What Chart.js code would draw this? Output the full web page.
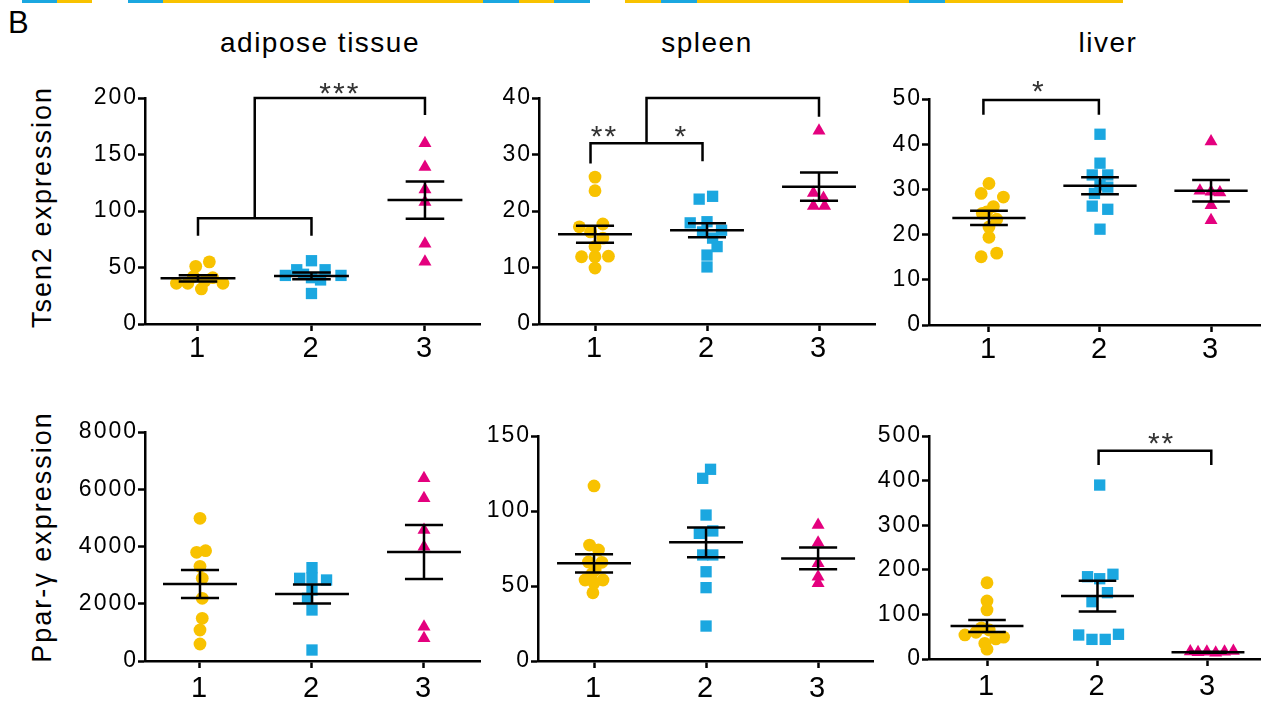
<!DOCTYPE html>
<html>
<head>
<meta charset="utf-8">
<script src="https://cdn.jsdelivr.net/npm/chart.js@4.4.1/dist/chart.umd.min.js"></script>
<style>
  html, body { margin: 0; padding: 0; background: #fff; }
  body { width: 1261px; height: 701px; position: relative; overflow: hidden;
         font-family: "Liberation Sans", Arial, sans-serif; color: #000; }
  canvas { position: absolute; }
  .strip { position: absolute; top: 0; height: 3px; }
  .tag { position: absolute; left: 8px; top: 7px; font-size: 31px; line-height: 31px; }
  .title { position: absolute; width: 300px; text-align: center; font-size: 28px;
           line-height: 28px; letter-spacing: 1.5px; top: 28.5px; }
  .ytitle { position: absolute; width: 320px; height: 30px; line-height: 30px; text-align: center;
            font-size: 27px; letter-spacing: 2px; transform: rotate(-90deg); }
</style>
</head>
<body>
<div id="strip"></div>
<div class="tag">B</div>
<div class="title" style="left:170px">adipose tissue</div>
<div class="title" style="left:557px">spleen</div>
<div class="title" style="left:958px">liver</div>
<div class="ytitle" style="left:-118.5px;top:191.5px">Tsen2 expression</div>
<div class="ytitle" style="left:-118.5px;top:521.5px">Ppar-γ expression</div>

<script>
// groups shown on every panel
const categories = [1, 2, 3];
const categoryLabels = ['1', '2', '3'];
const groupColors = ['#F8C200', '#1BA7E0', '#E4007E'];
const groupShapes = ['circle', 'rect', 'triangle'];
const groupRadius = [6.4, 8, 7.5];

// Tsen2 - adipose tissue
const tsen2AdiposeG1 = [51, 55, 36, 36, 31, 41, 36, 42, 38];
const tsen2AdiposeDx1 = [-0.02, 0.10, -0.19, -0.09, 0.03, 0.13, 0.22, -0.04, 0.06];
const tsen2AdiposeG2 = [56, 48, 43, 48, 43, 39, 41, 27, 44];
const tsen2AdiposeDx2 = [0, -0.13, -0.23, 0.12, 0.26, 0.08, 0, 0, -0.07];
const tsen2AdiposeG3 = [160, 139, 119, 108, 71, 55];
const tsen2AdiposeDx3 = [0, 0, 0, 0, 0, 0];
const tsen2AdiposeMean = [40.4, 42.5, 109.7];
const tsen2AdiposeSem = [2.8, 3.0, 16.5];
const tsen2AdiposeTicks = [0, 50, 100, 150, 200];

// Tsen2 - spleen
const tsen2SpleenG1 = [26, 23.6, 17.2, 17.7, 16.3, 15.2, 13.7, 11.9, 11.9, 12, 9.9];
const tsen2SpleenDx1 = [0, 0, -0.14, 0.07, -0.04, 0.07, 0, -0.12, 0, 0.12, 0];
const tsen2SpleenG2 = [22.1, 22.6, 17.9, 18.1, 16.6, 16.3, 15.2, 13.7, 12.2, 10.1];
const tsen2SpleenDx2 = [-0.07, 0.05, -0.15, 0, 0.13, -0.04, 0.05, 0.09, 0, 0];
const tsen2SpleenG3 = [34.2, 23.2, 22.3, 20.9, 20.9];
const tsen2SpleenDx3 = [0, -0.05, 0.04, -0.05, 0.05];
const tsen2SpleenMean = [15.9, 16.6, 24.3];
const tsen2SpleenSem = [1.5, 1.25, 2.5];
const tsen2SpleenTicks = [0, 10, 20, 30, 40];

// Tsen2 - liver
const tsen2LiverG1 = [31.3, 29.1, 28.3, 26.2, 24.7, 23.4, 21.7, 19.4, 15.1, 15.9, 25.0];
const tsen2LiverDx1 = [0, -0.07, 0.13, 0.04, -0.06, 0.07, 0, 0, -0.07, 0.07, -0.02];
const tsen2LiverG2 = [42.2, 35.8, 33.2, 33.2, 31, 29.1, 30.5, 26.3, 25.6, 21.2];
const tsen2LiverDx2 = [0, 0, -0.07, 0.07, 0, -0.05, 0.07, -0.07, 0.07, 0];
const tsen2LiverG3 = [40.6, 29.7, 29.3, 29.5, 26.5, 23.2];
const tsen2LiverDx3 = [0, -0.1, 0.08, 0, 0, 0];
const tsen2LiverMean = [23.7, 30.8, 29.7];
const tsen2LiverSem = [1.6, 1.9, 2.4];
const tsen2LiverTicks = [0, 10, 20, 30, 40, 50];

// Ppar-gamma - adipose tissue
const pparAdiposeG1 = [4985, 3797, 3854, 3307, 2889, 2190, 1492, 1083, 594];
const pparAdiposeDx1 = [0, -0.03, 0.05, 0, 0.02, 0.02, 0.02, 0, 0];
const pparAdiposeG2 = [3260, 2889, 2900, 2830, 2480, 2190, 1782, 384];
const pparAdiposeDx2 = [0, -0.11, 0, 0.13, 0, -0.04, 0, 0];
const pparAdiposeG3 = [6382, 5683, 4577, 3994, 1199, 793];
const pparAdiposeDx3 = [0, 0, 0, 0, 0, 0];
const pparAdiposeMean = [2690, 2340, 3808];
const pparAdiposeSem = [490, 330, 943];
const pparAdiposeTicks = [0, 2000, 4000, 6000, 8000];

// Ppar-gamma - spleen
const pparSpleenG1 = [116.7, 77.3, 74, 65.8, 60.7, 54, 54, 45.5, 66, 58, 52];
const pparSpleenDx1 = [0, -0.04, 0.04, 0.07, 0.01, -0.08, 0.08, -0.01, -0.05, -0.02, 0];
const pparSpleenG2 = [127.8, 121.8, 97.3, 85.1, 86.7, 70.7, 70.7, 59.5, 48.9, 23.3];
const pparSpleenDx2 = [0.04, -0.03, 0, -0.06, 0.06, -0.03, 0.06, 0, 0, 0];
const pparSpleenG3 = [90.7, 78.9, 65.1, 56.2, 51.8];
const pparSpleenDx3 = [0, 0, 0, 0, 0];
const pparSpleenMean = [65.1, 79.1, 68.4];
const pparSpleenSem = [6.1, 9.9, 7.2];
const pparSpleenTicks = [0, 50, 100, 150];

// Ppar-gamma - liver
const pparLiverG1 = [171, 130, 110, 54, 65, 49, 35, 22, 60, 45, 70];
const pparLiverDx1 = [0, 0, 0, -0.2, 0.02, 0.15, -0.02, 0, -0.1, 0.08, -0.05];
const pparLiverG2 = [390, 184.5, 180, 190, 128.5, 148.7, 53.8, 44, 44, 55.4];
const pparLiverDx2 = [0.02, -0.09, 0.02, 0.14, -0.05, 0.09, -0.17, -0.05, 0.07, 0.19];
const pparLiverG3 = [17, 15, 16, 14, 16, 18];
const pparLiverDx3 = [-0.16, -0.09, -0.01, 0.07, 0.15, 0.23];
const pparLiverMean = [74, 141, 15];
const pparLiverSem = [13.7, 34.5, 1.2];
const pparLiverTicks = [0, 100, 200, 300, 400, 500];

// significance brackets [x, y] and their stars [text, x, y]
const tsen2AdiposeBrackets = [[[1, 78], [1, 93.5], [2, 93.5], [2, 78]], [[1.5, 93.5], [1.5, 200], [3, 200], [3, 185]]];
const tsen2AdiposeStars = [['***', 2.25, 208.8]];
const tsen2SpleenBrackets = [[[0.96, 28.4], [0.96, 32], [1.96, 32], [1.96, 28.8]], [[1.46, 32], [1.46, 40], [3, 40], [3, 36.7]]];
const tsen2SpleenStars = [['**', 1.085, 34.2], ['*', 1.77, 34.1]];
const tsen2LiverBrackets = [[[0.95, 46.5], [0.95, 49.8], [1.99, 49.8], [1.99, 46.5]]];
const tsen2LiverStars = [['*', 1.45, 52.9]];
const pparLiverBrackets = [[[2.01, 435], [2.01, 467], [3.03, 467], [3.03, 435]]];
const pparLiverStars = [['**', 2.58, 496]];

// leftover colour strip from the panel above
const stripStops = [[22, 57, '#1BA7E0'], [57, 92, '#F8C200'], [128, 163, '#1BA7E0'], [163, 483, '#F8C200'],
  [483, 519, '#1BA7E0'], [519, 554, '#F8C200'], [554, 590, '#1BA7E0'], [625, 661, '#F8C200'],
  [661, 697, '#1BA7E0'], [697, 909, '#F8C200'], [909, 945, '#1BA7E0'], [945, 1123, '#F8C200']];
const strip = document.getElementById('strip');
stripStops.forEach(([a, b, c]) => {
  const d = document.createElement('div');
  d.className = 'strip';
  d.style.left = a + 'px';
  d.style.width = (b - a) + 'px';
  d.style.background = c;
  strip.appendChild(d);
});

Chart.defaults.font.family = '"Liberation Sans", Arial, sans-serif';
Chart.defaults.color = '#000';

// the figure's font is set wide, so space the canvas letters out a bit
const spacingPlugin = {
  id: 'spacing',
  beforeUpdate(chart) { chart.ctx.letterSpacing = '2px'; },
  beforeDraw(chart) { chart.ctx.letterSpacing = '2px'; }
};

const starPlugin = {
  id: 'stars',
  afterDatasetsDraw(chart, args, opts) {
    const {ctx, scales: {x, y}} = chart;
    ctx.save();
    ctx.font = '30px "Liberation Sans", Arial, sans-serif';
    ctx.fillStyle = '#333';
    ctx.textAlign = 'center';
    ctx.textBaseline = 'middle';
    (opts.items || []).forEach(([txt, sx, sy]) => {
      ctx.fillText(txt, x.getPixelForValue(sx), y.getPixelForValue(sy) + 6.5);
    });
    ctx.restore();
  }
};

const panels = [
  { canvas: [0, 55, 490, 372], area: [145, 98, 480, 324], xRange: [0.533, 3.485],
    groups: [tsen2AdiposeG1, tsen2AdiposeG2, tsen2AdiposeG3], dx: [tsen2AdiposeDx1, tsen2AdiposeDx2, tsen2AdiposeDx3],
    mean: tsen2AdiposeMean, sem: tsen2AdiposeSem, ticks: tsen2AdiposeTicks, brackets: tsen2AdiposeBrackets, stars: tsen2AdiposeStars },
  { canvas: [470, 55, 885, 372], area: [539, 98, 875, 324], xRange: [0.5, 3.5],
    groups: [tsen2SpleenG1, tsen2SpleenG2, tsen2SpleenG3], dx: [tsen2SpleenDx1, tsen2SpleenDx2, tsen2SpleenDx3],
    mean: tsen2SpleenMean, sem: tsen2SpleenSem, ticks: tsen2SpleenTicks, brackets: tsen2SpleenBrackets, stars: tsen2SpleenStars },
  { canvas: [860, 55, 1261, 372], area: [929, 99, 1261, 325], xRange: [0.46, 3.45],
    groups: [tsen2LiverG1, tsen2LiverG2, tsen2LiverG3], dx: [tsen2LiverDx1, tsen2LiverDx2, tsen2LiverDx3],
    mean: tsen2LiverMean, sem: tsen2LiverSem, ticks: tsen2LiverTicks, brackets: tsen2LiverBrackets, stars: tsen2LiverStars },
  { canvas: [0, 400, 490, 701], area: [145, 432, 480, 661], xRange: [0.509, 3.5],
    groups: [pparAdiposeG1, pparAdiposeG2, pparAdiposeG3], dx: [pparAdiposeDx1, pparAdiposeDx2, pparAdiposeDx3],
    mean: pparAdiposeMean, sem: pparAdiposeSem, ticks: pparAdiposeTicks, brackets: [], stars: [] },
  { canvas: [470, 400, 885, 701], area: [538, 436, 873, 661], xRange: [0.5, 3.49],
    groups: [pparSpleenG1, pparSpleenG2, pparSpleenG3], dx: [pparSpleenDx1, pparSpleenDx2, pparSpleenDx3],
    mean: pparSpleenMean, sem: pparSpleenSem, ticks: pparSpleenTicks, brackets: [], stars: [] },
  { canvas: [860, 400, 1261, 701], area: [929, 436, 1261, 659], xRange: [0.475, 3.48],
    groups: [pparLiverG1, pparLiverG2, pparLiverG3], dx: [pparLiverDx1, pparLiverDx2, pparLiverDx3],
    mean: pparLiverMean, sem: pparLiverSem, ticks: pparLiverTicks, brackets: pparLiverBrackets, stars: pparLiverStars }
];

function buildDatasets(p) {
  const datasets = [];
  const lineStyle = { showLine: true, pointRadius: 0, borderColor: '#000', borderWidth: 2.5, spanGaps: false, clip: false, order: 0 };

  // mean with SEM whiskers for each group
  const meanLines = [];
  categories.forEach((c, g) => {
    const m = p.mean[g], s = p.sem[g];
    meanLines.push(
      {x: c - 0.33, y: m}, {x: c + 0.33, y: m}, {x: c, y: null},
      {x: c - 0.17, y: m + s}, {x: c + 0.17, y: m + s}, {x: c, y: null},
      {x: c - 0.17, y: m - s}, {x: c + 0.17, y: m - s}, {x: c, y: null},
      {x: c, y: m - s}, {x: c, y: m + s}, {x: c, y: null});
  });
  datasets.push(Object.assign({ data: meanLines }, lineStyle));

  p.brackets.forEach(b => {
    datasets.push(Object.assign({ data: b.map(([x, y]) => ({x, y})) }, lineStyle));
  });

  p.groups.forEach((vals, g) => {
    datasets.push({
      data: vals.map((v, i) => ({ x: categories[g] + p.dx[g][i], y: v })),
      pointStyle: groupShapes[g],
      pointRadius: groupRadius[g],
      pointBackgroundColor: groupColors[g],
      pointBorderWidth: 0,
      showLine: false,
      clip: false,
      order: 1
    });
  });
  return datasets;
}

panels.forEach((p, idx) => {
  const [cl, ct, cr, cb] = p.canvas;
  const [al, at, ar, ab] = p.area;
  const cv = document.createElement('canvas');
  cv.width = cr - cl;
  cv.height = cb - ct;
  cv.style.left = cl + 'px';
  cv.style.top = ct + 'px';
  cv.style.width = (cr - cl) + 'px';
  cv.style.height = (cb - ct) + 'px';
  document.body.appendChild(cv);

  const yAxisWidth = al - cl;
  const xAxisHeight = cb - ab;
  const bottomRow = idx >= 3;

  new Chart(cv, {
    type: 'scatter',
    data: { datasets: buildDatasets(p) },
    plugins: [spacingPlugin, starPlugin],
    options: {
      responsive: false,
      animation: false,
      devicePixelRatio: 1,
      layout: { autoPadding: false, padding: { top: at - ct, right: cr - ar, left: 0, bottom: 0 } },
      plugins: {
        legend: { display: false },
        tooltip: { enabled: false },
        stars: { items: p.stars }
      },
      scales: {
        x: {
          type: 'linear',
          min: p.xRange[0],
          max: p.xRange[1],
          afterBuildTicks: axis => { axis.ticks = categories.map(v => ({ value: v })); },
          afterFit: axis => { axis.height = xAxisHeight; },
          ticks: {
            callback: v => categoryLabels[categories.indexOf(v)],
            font: { size: 29 },
            padding: bottomRow ? 4 : 1,
            maxRotation: 0,
            color: '#000'
          },
          grid: { drawOnChartArea: false, drawTicks: true, tickLength: 7, tickWidth: 2.5, tickColor: '#000' },
          border: { display: true, color: '#000', width: 2.5 }
        },
        y: {
          min: 0,
          max: p.ticks[p.ticks.length - 1],
          afterBuildTicks: axis => { axis.ticks = p.ticks.map(v => ({ value: v })); },
          afterFit: axis => { axis.width = yAxisWidth; },
          ticks: {
            callback: v => String(v),
            font: { size: 23 },
            padding: 0,
            color: '#000'
          },
          grid: { drawOnChartArea: false, drawTicks: true, tickLength: 7, tickWidth: 2.5, tickColor: '#000' },
          border: { display: true, color: '#000', width: 2.5 }
        }
      }
    }
  });
});
</script>
</body>
</html>
